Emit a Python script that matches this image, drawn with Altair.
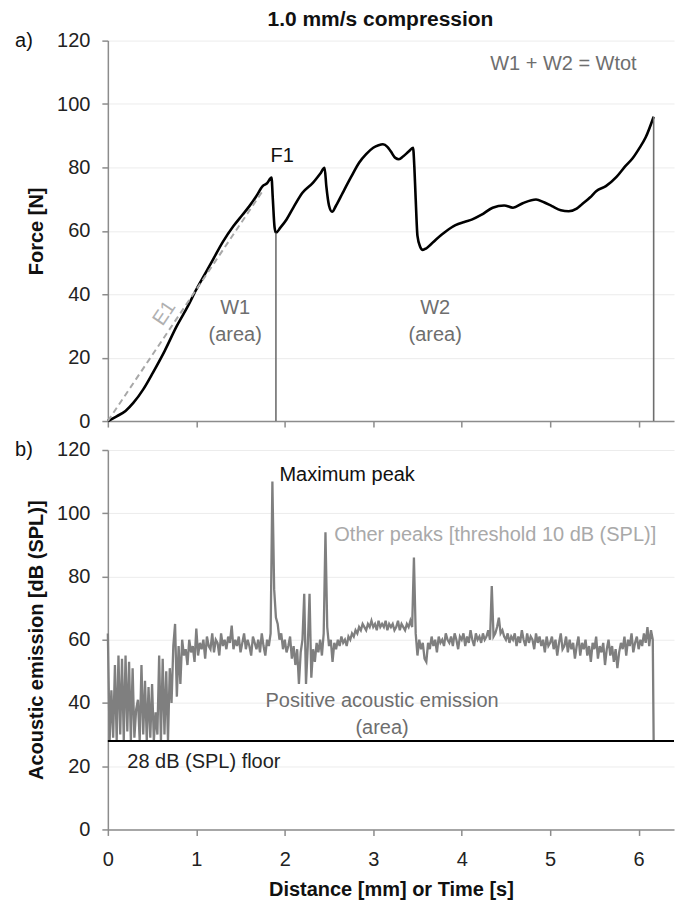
import altair as alt
import pandas as pd

# ---------------- Panel a: force vs distance ----------------
force_x = [0.0, 0.1, 0.2, 0.29, 0.4, 0.51, 0.64, 0.78, 0.9, 1.0, 1.1, 1.19, 1.3, 1.42,
           1.52, 1.6, 1.68, 1.75, 1.8, 1.85, 1.865, 1.885, 1.9, 1.95, 2.02, 2.1, 2.2,
           2.32, 2.4, 2.45, 2.47, 2.5, 2.535, 2.58, 2.655, 2.75, 2.84, 2.92, 3.0, 3.06,
           3.11, 3.16, 3.2, 3.25, 3.29, 3.34, 3.4, 3.45, 3.465, 3.48, 3.5, 3.53, 3.56,
           3.6, 3.71, 3.82, 3.93, 4.03, 4.12, 4.22, 4.35, 4.48, 4.58, 4.69, 4.84, 4.93,
           5.02, 5.12, 5.21, 5.3, 5.36, 5.45, 5.52, 5.63, 5.75, 5.85, 5.93, 6.0, 6.08, 6.17]
force_y = [0.0, 1.5, 3.2, 5.8, 10.0, 15.3, 22.0, 30.0, 36.0, 41.5, 46.5, 51.0, 56.5, 61.5,
           65.0, 67.8, 71.0, 74.1, 75.0, 76.8, 70.0, 61.0, 59.4, 61.0, 63.6, 67.5, 72.0,
           75.2, 78.0, 79.9, 74.0, 68.0, 66.0, 68.0, 72.0, 77.0, 81.5, 84.2, 86.2, 87.0,
           87.3, 86.5, 85.0, 83.0, 82.6, 83.5, 85.0, 86.2, 80.0, 70.0, 58.4, 55.0, 54.0,
           54.5, 57.3, 59.8, 61.8, 62.8, 63.6, 65.0, 67.3, 68.0, 67.3, 68.7, 69.9, 69.0,
           67.8, 66.5, 66.2, 67.0, 68.4, 70.5, 72.5, 74.1, 77.0, 80.4, 82.8, 85.7, 89.5, 96.0]

e1_x = [0.0, 1.75]
e1_y = [0.0, 72.6]

bound_x = [1.90, 6.17]
bound_top = [59.4, 96.0]

# ---------------- Panel b: acoustic emission ----------------
AE_STEP = 0.02
ae_values = [
    62, 28, 44, 29, 52, 28, 55, 30, 54, 28,
    55, 31, 53, 28, 51, 29, 38, 41, 28, 52,
    30, 47, 28, 45, 29, 46, 28, 37, 30, 55,
    28, 54, 30, 50, 28, 51, 40, 58, 65, 42,
    58, 46, 60, 55, 57, 52, 60, 56, 58, 53,
    63.5, 55, 59, 57, 60, 54, 61, 58, 57, 62,
    56, 60, 59, 55, 62, 58, 60, 57, 61, 59,
    64.5, 57, 60, 58, 61, 56, 59, 62, 57, 60,
    58, 55, 61, 59, 57, 60, 56, 62, 58, 55,
    60, 58, 62, 110, 76, 67, 65, 60, 62, 57,
    60, 56, 58, 61, 54, 58, 52, 57, 46, 56,
    60, 74.5, 46, 58, 74.5, 48, 57, 53, 59, 56,
    60, 55, 62, 94, 64, 58, 60, 53, 59, 57,
    60, 58, 61, 59, 60, 58, 61, 60, 62, 61,
    63, 62, 64, 63, 65, 64, 63, 65, 64, 66,
    64, 65, 63, 66, 64, 65, 64, 66, 63, 65,
    64, 65, 63, 64, 66, 63, 65, 64, 63, 65,
    64, 66, 64, 86, 62, 55, 60, 57, 59, 54,
    53, 59, 57, 61, 58, 60, 56, 61, 59, 60,
    58, 62, 60, 59, 61, 58, 62, 60, 57, 61,
    60, 62, 58, 61, 59, 63, 60, 58, 62, 60,
    61, 59, 62, 60, 61, 63, 60, 77, 61, 62,
    64, 67, 62, 63, 61, 60, 62, 59, 61, 60,
    62, 58, 61, 59, 63, 60, 58, 62, 59, 61,
    60, 57, 62, 59, 61, 58, 60, 56, 61, 58,
    59, 61, 57, 60, 55, 59, 62, 57, 58, 61,
    56, 60, 57, 59, 54, 58, 61, 55, 59, 57,
    60, 55, 58, 53, 59, 57, 61, 54, 58, 56,
    59, 52, 57, 60, 55, 58, 53, 57, 51, 56,
    59, 57, 61, 55, 60, 58, 62, 56, 59, 61,
    57, 60, 58, 62, 59, 64, 58, 63, 60,
]
ae_end_x = 6.17
floor_db = 28

x_ticks = [0, 1, 2, 3, 4, 5, 6]
y_ticks = [0, 20, 40, 60, 80, 100, 120]

FONT = "Liberation Sans"
W = 567

# ---------------- tables ----------------
df_force = pd.DataFrame({"x": force_x, "y": force_y})
df_e1 = pd.DataFrame({"x": e1_x, "y": e1_y})
df_bound = pd.DataFrame({"x": bound_x, "y": [0, 0], "y2": bound_top})
ae_x = [round(i * AE_STEP, 3) for i in range(len(ae_values))] + [ae_end_x]
df_ae = pd.DataFrame({"x": ae_x, "y": ae_values + [floor_db]})
df_floor = pd.DataFrame({"x": [0.0], "x2": [6.4], "y": [floor_db]})

xscale = alt.Scale(domain=[0, 6.4], nice=False)
yscale = alt.Scale(domain=[0, 120], nice=False)

yaxis_common = dict(values=y_ticks, tickSize=6, labelPadding=12, titlePadding=10, grid=True)

Xa = alt.X("x:Q", scale=xscale,
           axis=alt.Axis(values=x_ticks, labels=False, title=None, grid=False, tickSize=6))
Ya = alt.Y("y:Q", scale=yscale, axis=alt.Axis(title="Force [N]", **yaxis_common))

# ---- panel a layers
force_line = alt.Chart(df_force).mark_line(color="black", strokeWidth=2.6,
                                            interpolate="monotone").encode(x=Xa, y=Ya)
e1_line = alt.Chart(df_e1).mark_line(color="#a8a8a8", strokeWidth=2,
                                      strokeDash=[6, 4]).encode(x=Xa, y=Ya)
bounds = alt.Chart(df_bound).mark_rule(color="#6e6e6e", strokeWidth=1.6).encode(
    x=Xa, y=Ya, y2="y2:Q")

df_ta_gray = pd.DataFrame({"x": [1.44, 1.44, 3.70, 3.70, 5.15],
                           "y": [35.5, 27.0, 35.5, 27.0, 112.5],
                           "t": ["W1", "(area)", "W2", "(area)", "W1 + W2 = Wtot"]})
ta_gray = alt.Chart(df_ta_gray).mark_text(font=FONT, fontSize=20, color="#6e6e6e").encode(
    x=Xa, y=Ya, text="t:N")
df_f1 = pd.DataFrame({"x": [1.97], "y": [83.6], "t": ["F1"]})
ta_f1 = alt.Chart(df_f1).mark_text(font=FONT, fontSize=20, color="#111111").encode(
    x=Xa, y=Ya, text="t:N")
df_e1t = pd.DataFrame({"x": [0.64], "y": [34.0], "t": ["E1"]})
ta_e1 = alt.Chart(df_e1t).mark_text(font=FONT, fontSize=20, color="#b0b0b0", angle=304).encode(
    x=Xa, y=Ya, text="t:N")
df_title = pd.DataFrame({"t": ["1.0 mm/s compression"]})
ta_title = alt.Chart(df_title).mark_text(font=FONT, fontSize=21, fontWeight="bold",
                                         color="#111111").encode(
    x=alt.value(273), y=alt.value(-21), text="t:N")
df_a = pd.DataFrame({"y": [120], "t": ["a)"]})
ta_a = alt.Chart(df_a).mark_text(font=FONT, fontSize=20, color="#111111").encode(
    x=alt.value(-84), y=Ya, text="t:N")

panel_a = alt.layer(force_line, e1_line, bounds, ta_gray, ta_f1, ta_e1, ta_title, ta_a).properties(
    width=W, height=381)

# ---- panel b layers
Xb = alt.X("x:Q", scale=xscale,
           axis=alt.Axis(values=x_ticks, title="Distance [mm] or Time [s]", grid=False,
                         tickSize=6, labelPadding=14, titlePadding=10, labelFlush=False,
                         format="d"))
Yb = alt.Y("y:Q", scale=yscale, axis=alt.Axis(title="Acoustic emission [dB (SPL)]", **yaxis_common))

ae_line = alt.Chart(df_ae).mark_line(color="#7f7f7f", strokeWidth=2.3).encode(x=Xb, y=Yb)
floor_line = alt.Chart(df_floor).mark_rule(color="black", strokeWidth=2).encode(
    x=Xb, x2="x2:Q", y=Yb)

df_tb_gray = pd.DataFrame({"x": [3.10, 3.10], "y": [40.5, 32.2],
                           "t": ["Positive acoustic emission", "(area)"]})
tb_gray = alt.Chart(df_tb_gray).mark_text(font=FONT, fontSize=20, color="#6e6e6e").encode(
    x=Xb, y=Yb, text="t:N")
df_tb_max = pd.DataFrame({"x": [1.94], "y": [112.0], "t": ["Maximum peak"]})
tb_max = alt.Chart(df_tb_max).mark_text(font=FONT, fontSize=20, color="#111111", align="left").encode(
    x=Xb, y=Yb, text="t:N")
df_tb_other = pd.DataFrame({"x": [2.56], "y": [93.1], "t": ["Other peaks [threshold 10 dB (SPL)]"]})
tb_other = alt.Chart(df_tb_other).mark_text(font=FONT, fontSize=20, color="#a9a9a9", align="left").encode(
    x=Xb, y=Yb, text="t:N")
df_tb_floor = pd.DataFrame({"x": [0.22], "y": [21.2], "t": ["28 dB (SPL) floor"]})
tb_floor = alt.Chart(df_tb_floor).mark_text(font=FONT, fontSize=20, color="#222222", align="left").encode(
    x=Xb, y=Yb, text="t:N")
df_b = pd.DataFrame({"y": [120], "t": ["b)"]})
tb_b = alt.Chart(df_b).mark_text(font=FONT, fontSize=20, color="#111111").encode(
    x=alt.value(-84), y=Yb, text="t:N")

panel_b = alt.layer(ae_line, floor_line, tb_gray, tb_max, tb_other, tb_floor, tb_b).properties(
    width=W, height=380)

chart = alt.vconcat(panel_a, panel_b, spacing=9).properties(
    padding={"left": 7, "top": 0, "right": 0, "bottom": 0}
).configure_view(stroke=None).configure_axis(
    labelFont=FONT, titleFont=FONT, labelFontSize=20, titleFontSize=20,
    labelColor="#222222", titleColor="#111111", titleFontWeight="bold",
    domainColor="#8c8c8c", tickColor="#8c8c8c", domainWidth=1.5, tickWidth=1.5,
    gridColor="#ececec", gridWidth=1
)

chart.save("out.html", embed_options={"renderer": "svg", "actions": False})
